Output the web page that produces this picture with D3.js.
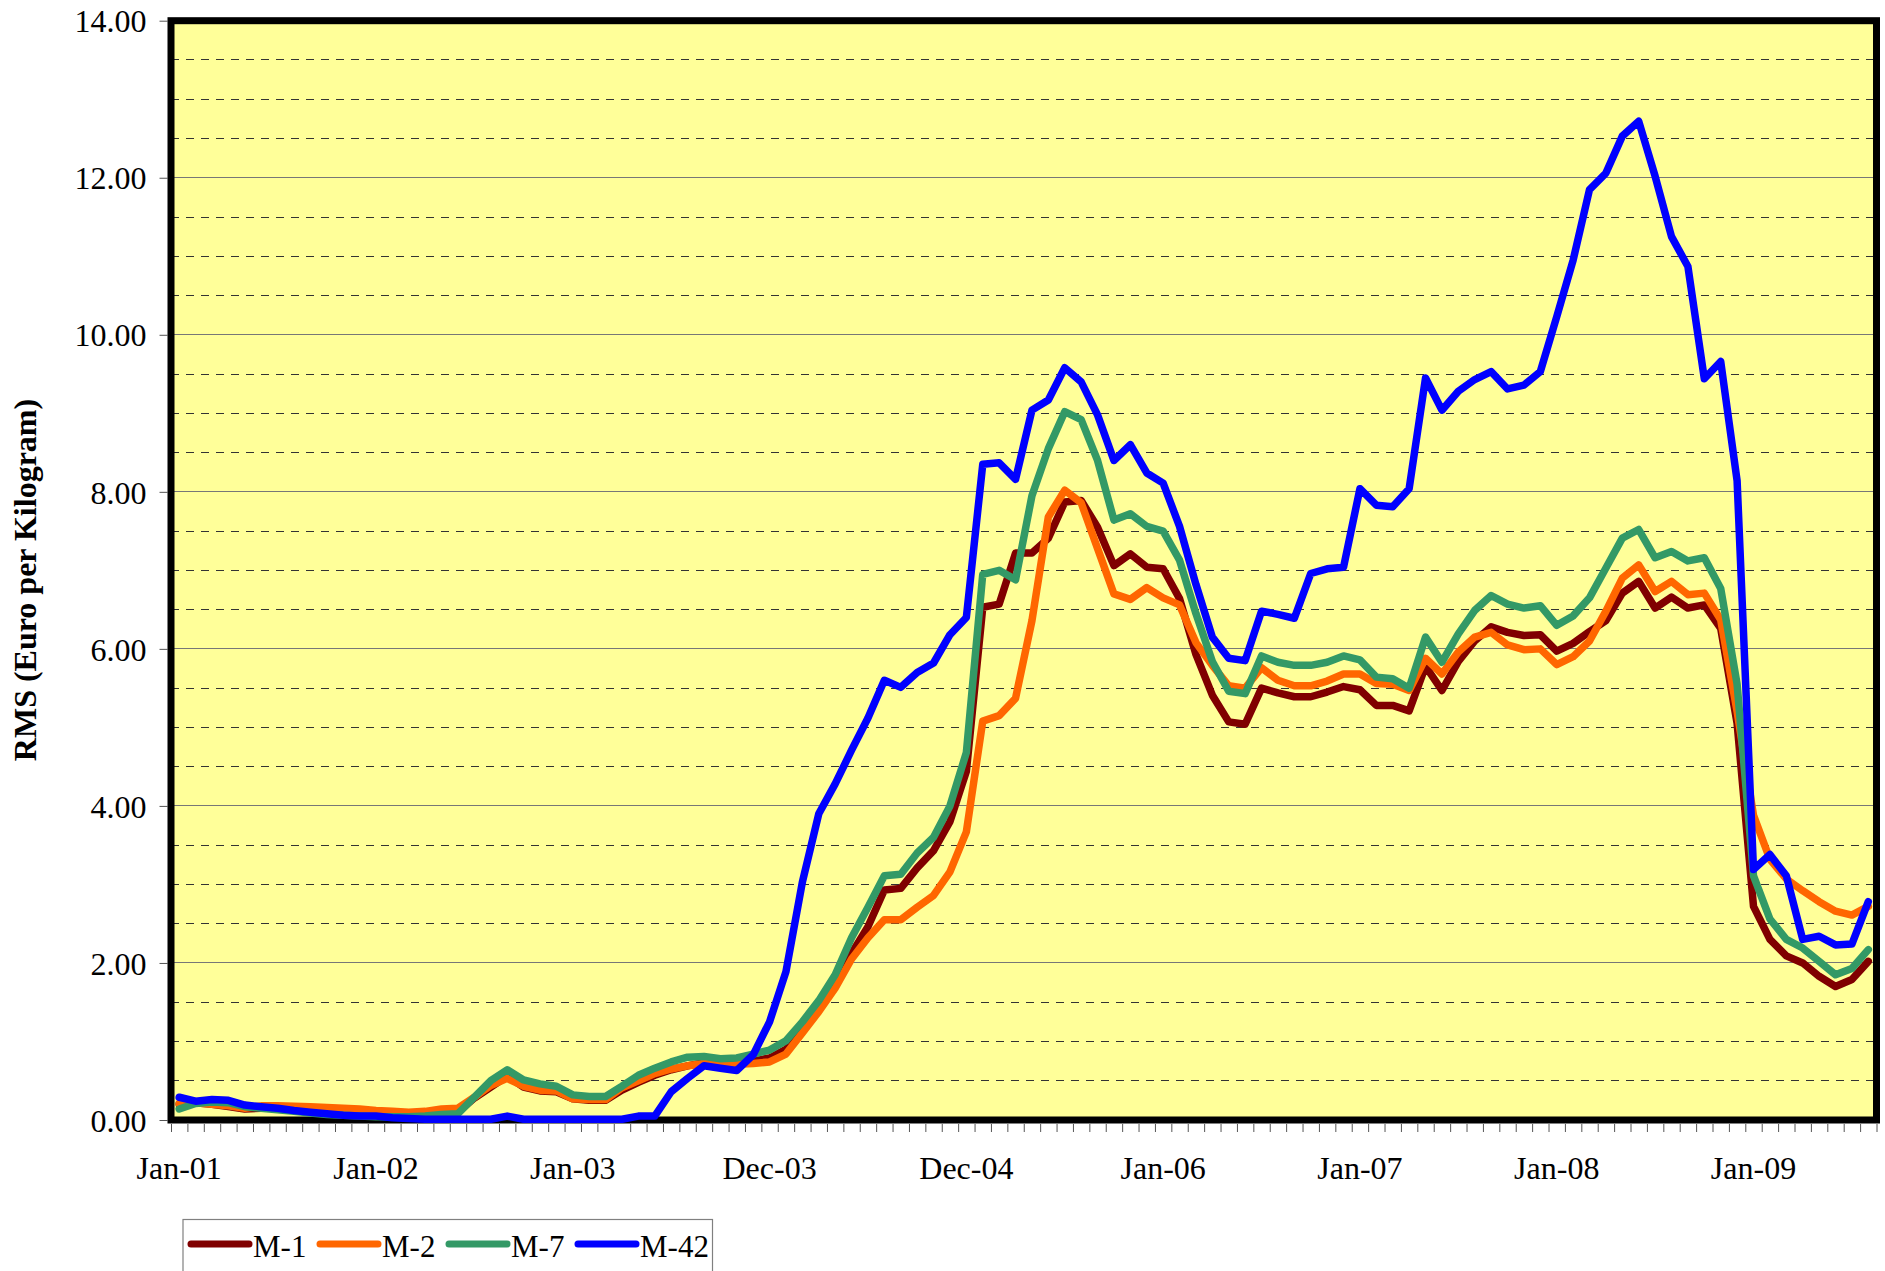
<!DOCTYPE html>
<html>
<head>
<meta charset="utf-8">
<script src="https://cdn.jsdelivr.net/npm/d3@7"></script>
<style>
  html, body { margin: 0; padding: 0; background: #ffffff; }
  svg { display: block; }
  text { font-family: "Liberation Serif", "Times New Roman", serif; fill: #000; }
</style>
</head>
<body>
<svg id="chart" width="1885" height="1271"></svg>
<script>
// ---- DATA ----
const monthCount = 104;                       // Jan-01 .. Aug-09 (category axis)
const tickIndex  = [0, 12, 24, 36, 48, 60, 72, 84, 96];
const tickLabels = ["Jan-01","Jan-02","Jan-03","Dec-03","Dec-04","Jan-06","Jan-07","Jan-08","Jan-09"];
const yTicks = [0, 2, 4, 6, 8, 10, 12, 14];
const seriesNames = ["M-1", "M-2", "M-7", "M-42"];

const m1 = [0.20,0.22,0.20,0.17,0.14,0.15,0.15,0.14,0.13,0.12,0.11,0.10,0.08,0.07,0.06,0.07,0.09,0.10,0.28,0.42,
            0.56,0.42,0.37,0.36,0.27,0.25,0.25,0.38,0.48,0.57,0.64,0.69,0.73,0.72,0.72,0.75,0.79,0.90,1.14,1.41,
            1.72,2.12,2.46,2.93,2.95,3.21,3.43,3.80,4.44,6.53,6.57,7.22,7.22,7.41,7.87,7.89,7.55,7.06,7.21,7.04,
            7.02,6.64,5.93,5.41,5.07,5.04,5.50,5.44,5.39,5.39,5.45,5.52,5.48,5.28,5.28,5.21,5.78,5.47,5.84,6.10,
            6.28,6.21,6.17,6.18,5.97,6.07,6.22,6.36,6.71,6.86,6.52,6.66,6.52,6.56,6.26,5.05,2.72,2.30,2.09,2.00,
            1.83,1.70,1.79,2.02];
const m2 = [0.21,0.22,0.20,0.18,0.15,0.18,0.18,0.175,0.17,0.16,0.15,0.14,0.12,0.11,0.10,0.11,0.14,0.15,0.29,0.44,
            0.53,0.43,0.38,0.37,0.27,0.26,0.26,0.41,0.50,0.59,0.65,0.69,0.72,0.70,0.71,0.72,0.74,0.84,1.11,1.38,
            1.68,2.05,2.32,2.55,2.55,2.71,2.86,3.16,3.67,5.08,5.15,5.37,6.36,7.68,8.02,7.86,7.28,6.70,6.63,6.78,
            6.65,6.56,6.08,5.79,5.53,5.50,5.76,5.60,5.53,5.53,5.59,5.68,5.68,5.56,5.55,5.47,5.88,5.68,5.96,6.15,
            6.21,6.05,5.99,6.00,5.80,5.90,6.10,6.48,6.90,7.07,6.73,6.86,6.69,6.71,6.37,5.20,3.88,3.32,3.07,2.92,
            2.78,2.66,2.61,2.72];
const m7 = [0.14,0.21,0.23,0.22,0.17,0.15,0.13,0.11,0.09,0.07,0.06,0.05,0.04,0.04,0.04,0.05,0.07,0.08,0.29,0.50,
            0.64,0.51,0.46,0.43,0.32,0.30,0.30,0.43,0.57,0.66,0.74,0.80,0.81,0.78,0.79,0.84,0.89,1.01,1.25,1.52,
            1.85,2.32,2.71,3.11,3.13,3.40,3.60,4.00,4.68,6.95,7.00,6.88,7.95,8.55,9.02,8.92,8.40,7.64,7.72,7.56,
            7.50,7.13,6.45,5.84,5.46,5.43,5.91,5.83,5.79,5.79,5.83,5.91,5.86,5.64,5.62,5.50,6.15,5.83,6.19,6.49,
            6.68,6.57,6.52,6.55,6.30,6.42,6.65,7.03,7.41,7.52,7.16,7.24,7.12,7.16,6.77,5.55,3.11,2.56,2.30,2.19,
            2.02,1.85,1.93,2.17];
const m42 = [0.29,0.24,0.26,0.25,0.19,0.17,0.15,0.12,0.10,0.08,0.06,0.05,0.05,0.03,0.02,0.01,0.01,0.01,0.01,0.01,
             0.05,0.01,0.01,0.01,0.01,0.01,0.01,0.01,0.05,0.05,0.36,0.53,0.69,0.66,0.63,0.83,1.25,1.89,3.03,3.90,
             4.28,4.71,5.12,5.60,5.51,5.70,5.82,6.18,6.40,8.35,8.37,8.16,9.04,9.17,9.58,9.40,8.98,8.40,8.60,8.24,
             8.11,7.56,6.82,6.15,5.88,5.85,6.48,6.44,6.39,6.96,7.02,7.04,8.04,7.83,7.81,8.04,9.45,9.04,9.28,9.43,
             9.53,9.31,9.36,9.53,10.23,10.95,11.85,12.06,12.53,12.72,12.02,11.25,10.87,9.44,9.66,8.14,3.19,3.38,3.11,2.30,
             2.34,2.23,2.24,2.78];

const seriesValues = [m1, m2, m7, m42];
const seriesColors = ["#800000", "#FF6600", "#339966", "#0000FF"];

// ---- LAYOUT ----
const L = 171, R = 1876.5, T = 20.7, B = 1120;
const FONT = '"Liberation Serif", "Times New Roman", serif';
const svg = d3.select("#chart");
svg.append("rect").attr("width", 1885).attr("height", 1271).attr("fill", "#fff");

const categories = d3.range(monthCount);
const x = d3.scaleBand().domain(categories).range([L, R]).padding(0);
const xc = i => x(i) + x.bandwidth() / 2;
const xEdges = d3.scaleLinear().domain([0, monthCount]).range([L, R]);
const y = d3.scaleLinear().domain([0, 14]).range([B, T]);

// plot background
svg.append("rect").attr("x", L).attr("y", T).attr("width", R - L).attr("height", B - T)
  .attr("fill", "#FFFF99");

// minor dashed gridlines
const minor = d3.range(0.5, 14, 0.5).filter(v => v % 2 !== 0);
svg.append("g").selectAll("line").data(minor).join("line")
  .attr("x1", L).attr("x2", R).attr("y1", d => y(d)).attr("y2", d => y(d))
  .attr("stroke", "#333").attr("stroke-width", 1).attr("stroke-dasharray", "8,7")
  .attr("shape-rendering", "crispEdges");
// major gridlines
svg.append("g").selectAll("line").data(yTicks.filter(v => v > 0 && v < 14)).join("line")
  .attr("x1", L).attr("x2", R).attr("y1", d => y(d)).attr("y2", d => y(d))
  .attr("stroke", "#777").attr("stroke-width", 1).attr("shape-rendering", "crispEdges");

// y axis
const yAxis = svg.append("g").attr("transform", `translate(${L - 3.5},0)`)
  .call(d3.axisLeft(y).tickValues(yTicks).tickFormat(d3.format(".2f")).tickSize(8).tickPadding(13));
yAxis.select(".domain").remove();
yAxis.selectAll(".tick line").attr("stroke", "#555");
yAxis.selectAll("text").attr("font-size", 32).attr("dy", "0.35em").style("font-family", FONT);

// x tick marks (category boundaries)
const xTicksG = svg.append("g").attr("transform", `translate(0,${B + 4})`)
  .call(d3.axisBottom(xEdges).tickValues(d3.range(monthCount + 1)).tickSize(8).tickFormat(""));
xTicksG.select(".domain").remove();
xTicksG.selectAll(".tick line").attr("stroke", "#555");

// x labels
const xLab = svg.append("g").attr("transform", `translate(0,${B})`)
  .call(d3.axisBottom(x).tickValues(tickIndex).tickSize(0).tickPadding(36)
    .tickFormat(d => tickLabels[tickIndex.indexOf(d)]));
xLab.select(".domain").remove();
xLab.selectAll("text").attr("font-size", 32).style("font-family", FONT);

// plot border
svg.append("rect").attr("x", L).attr("y", T).attr("width", R - L).attr("height", B - T)
  .attr("fill", "none").attr("stroke", "#000").attr("stroke-width", 7);

// series lines
const line = d3.line().x((d, i) => xc(i)).y(d => y(d));
svg.append("g").selectAll("path").data(seriesValues).join("path")
  .attr("d", d => line(d))
  .attr("fill", "none")
  .attr("stroke", (d, i) => seriesColors[i])
  .attr("stroke-width", 7.5)
  .attr("stroke-linejoin", "round")
  .attr("stroke-linecap", "round");

// y title
svg.append("text")
  .attr("transform", "translate(36,580) rotate(-90)")
  .attr("text-anchor", "middle")
  .attr("font-size", 32).attr("font-weight", "bold")
  .text("RMS (Euro per Kilogram)");

// legend
const lg = svg.append("g");
lg.append("rect").attr("x", 183).attr("y", 1219.5).attr("width", 529.5).attr("height", 80)
  .attr("fill", "#fff").attr("stroke", "#808080").attr("stroke-width", 1.2);
const legendX = [191, 320, 449, 578];
seriesNames.forEach((name, i) => {
  const g = lg.append("g").attr("transform", `translate(${legendX[i]},0)`);
  g.append("line").attr("x1", 0).attr("x2", 58).attr("y1", 1244).attr("y2", 1244)
    .attr("stroke", seriesColors[i]).attr("stroke-width", 7).attr("stroke-linecap", "round");
  g.append("text").attr("x", 62).attr("y", 1257).attr("font-size", 31).text(name);
});
</script>
</body>
</html>
